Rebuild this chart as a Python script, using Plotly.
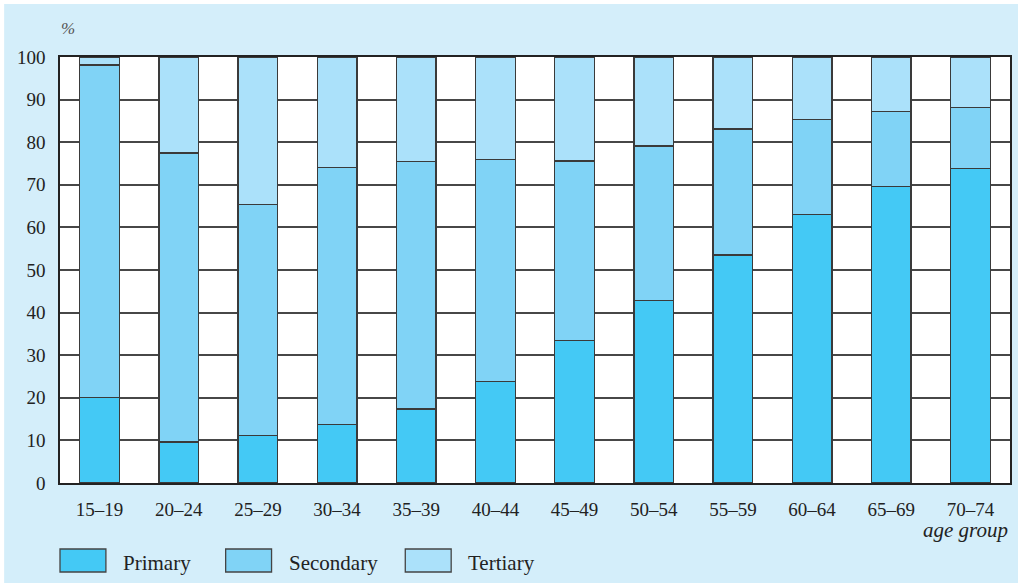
import plotly.graph_objects as go

# Share of population by highest level of educational attainment, per age group (%)
age_groups = ["15–19", "20–24", "25–29", "30–34", "35–39", "40–44",
              "45–49", "50–54", "55–59", "60–64", "65–69", "70–74"]
primary = [20.0, 9.6, 11.2, 13.8, 17.4, 23.8, 33.5, 42.8, 53.5, 63.0, 69.6, 73.9]
secondary = [78.1, 67.9, 54.1, 60.2, 58.1, 52.1, 42.1, 36.3, 29.6, 22.4, 17.6, 14.3]
tertiary = [1.9, 22.5, 34.7, 26.0, 24.5, 24.1, 24.4, 20.9, 16.9, 14.6, 12.8, 11.8]
series_names = ["Primary", "Secondary", "Tertiary"]
y_ticks = [0, 10, 20, 30, 40, 50, 60, 70, 80, 90, 100]

colors = ["#44C9F5", "#80D3F6", "#ABE1FA"]
panel = "#D4EEFA"
ink = "#222222"
font_family = "Liberation Serif, Times New Roman, serif"

fig = go.Figure()
for name, vals, col in zip(series_names, [primary, secondary, tertiary], colors):
    fig.add_trace(go.Bar(
        x=age_groups, y=vals, name=name,
        marker=dict(color=col, line=dict(color="#3a3a3a", width=1.3)),
        showlegend=False,
    ))

fig.update_layout(
    barmode="stack",
    bargap=0.5,
    width=1018, height=583,
    margin=dict(l=60, r=6, t=57, b=100),
    paper_bgcolor=panel,
    plot_bgcolor="white",
    font=dict(family=font_family, size=19, color=ink),
    xaxis=dict(
        range=[-0.5, 11.5], showgrid=False, showline=True, mirror=True,
        linecolor=ink, linewidth=1.5, ticks="", ticklabelstandoff=8,
        tickfont=dict(size=19, color=ink),
    ),
    yaxis=dict(
        range=[0, 100], tickvals=y_ticks, showgrid=True, gridcolor="#474747",
        gridwidth=1.5, showline=True, mirror=True, linecolor=ink, linewidth=1.5,
        ticks="", ticklabelstandoff=9, zeroline=False,
        tickfont=dict(size=19, color=ink),
    ),
)

# White margin strip along the top and left edges of the panel
fig.add_shape(type="rect", xref="paper", yref="paper",
              x0=-0.08, x1=1.02, y0=1.1244, y1=1.14,
              fillcolor="white", line=dict(width=0), layer="below")
fig.add_shape(type="rect", xref="paper", yref="paper",
              x0=-0.08, x1=-0.0588, y0=-0.3, y1=1.14,
              fillcolor="white", line=dict(width=0), layer="below")

# Axis captions
fig.add_annotation(text="<i>%</i>", xref="paper", yref="paper",
                   x=0.0084, y=1.068, xanchor="center", yanchor="middle",
                   showarrow=False, font=dict(size=17, color="#555"))
fig.add_annotation(text="<i>age group</i>", xref="paper", yref="paper",
                   x=1.0, y=-0.111, xanchor="right", yanchor="middle",
                   showarrow=False, font=dict(size=21, color=ink))

# Legend row: swatch boxes with labels
box_x0 = [60, 226, 406]
plot_w, plot_h = 952, 426
for name, col, bx in zip(series_names, colors, box_x0):
    px0 = (bx - 60) / plot_w
    px1 = (bx + 46 - 60) / plot_w
    py0 = (483 - 572) / plot_h
    py1 = (483 - 549) / plot_h
    fig.add_shape(type="rect", xref="paper", yref="paper",
                  x0=px0, x1=px1, y0=py0, y1=py1,
                  fillcolor=col, line=dict(color="#444", width=1.3))
    fig.add_annotation(text=name, xref="paper", yref="paper",
                       x=(bx + 61 - 60) / plot_w, y=(483 - 563) / plot_h,
                       xanchor="left", yanchor="middle", showarrow=False,
                       font=dict(size=21, color=ink))

fig.write_html("out.html")
